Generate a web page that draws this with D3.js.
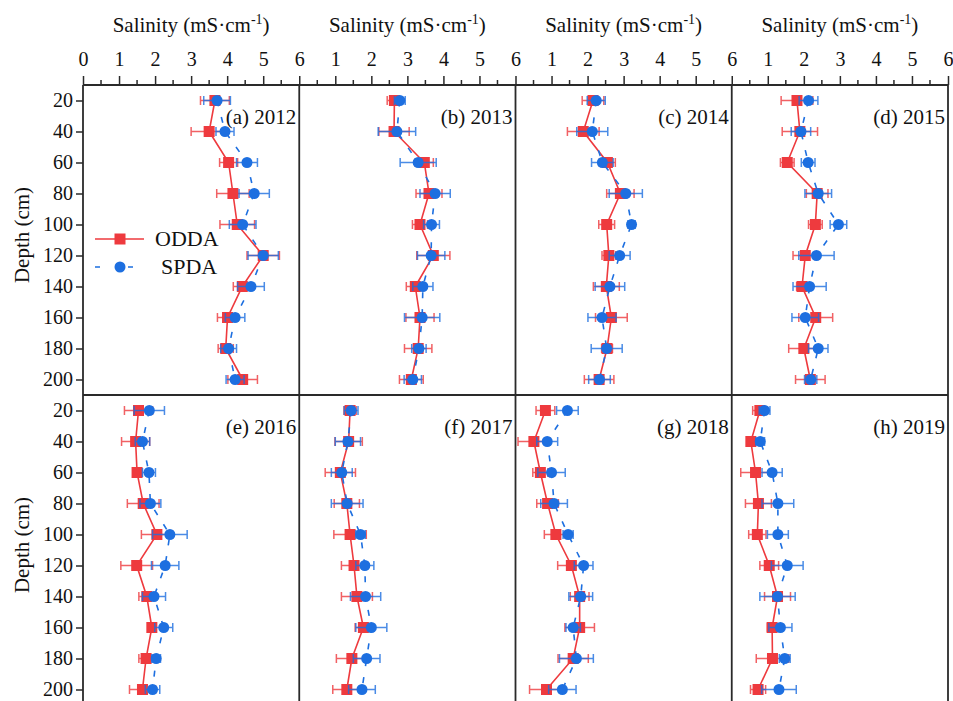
<!DOCTYPE html>
<html>
<head>
<meta charset="utf-8">
<script src="https://cdn.jsdelivr.net/npm/d3@7"></script>
<style>
  body { margin: 0; background: #fff; }
</style>
</head>
<body>
<div id="chart"></div>
<script>
// depth levels (cm) and panels
var depths = [20, 40, 60, 80, 100, 120, 140, 160, 180, 200];
var years = [2012, 2013, 2014, 2015, 2016, 2017, 2018, 2019];
var letters = ["a", "b", "c", "d", "e", "f", "g", "h"];
var seriesNames = ["ODDA", "SPDA"];

// ODDA mean / error, one row per year
var oddaMean = [
  [3.66, 3.50, 4.04, 4.16, 4.28, 5.00, 4.42, 4.01, 3.96, 4.43],
  [2.64, 2.63, 3.47, 3.60, 3.35, 3.72, 3.22, 3.35, 3.30, 3.11],
  [2.15, 1.88, 2.55, 2.91, 2.53, 2.59, 2.52, 2.66, 2.54, 2.32],
  [1.81, 1.89, 1.54, 2.37, 2.32, 2.04, 1.95, 2.33, 2.00, 2.18],
  [1.54, 1.46, 1.50, 1.67, 2.05, 1.49, 1.77, 1.91, 1.75, 1.65],
  [1.41, 1.37, 1.14, 1.32, 1.41, 1.52, 1.60, 1.78, 1.46, 1.32],
  [0.83, 0.51, 0.69, 0.89, 1.12, 1.55, 1.78, 1.78, 1.60, 0.86],
  [0.78, 0.53, 0.66, 0.74, 0.71, 1.04, 1.27, 1.12, 1.13, 0.73]
];
var oddaErr = [
  [0.40, 0.50, 0.25, 0.45, 0.48, 0.45, 0.25, 0.28, 0.21, 0.41],
  [0.20, 0.42, 0.25, 0.36, 0.21, 0.46, 0.25, 0.39, 0.38, 0.33],
  [0.30, 0.44, 0.22, 0.38, 0.22, 0.19, 0.36, 0.44, 0.15, 0.41],
  [0.44, 0.49, 0.19, 0.30, 0.19, 0.34, 0.15, 0.47, 0.42, 0.41],
  [0.39, 0.39, 0.10, 0.44, 0.43, 0.44, 0.22, 0.10, 0.20, 0.36],
  [0.17, 0.38, 0.42, 0.35, 0.45, 0.35, 0.43, 0.23, 0.43, 0.39],
  [0.26, 0.44, 0.21, 0.30, 0.32, 0.38, 0.26, 0.41, 0.42, 0.47],
  [0.20, 0.10, 0.41, 0.36, 0.24, 0.26, 0.36, 0.13, 0.45, 0.21]
];
// SPDA mean / error
var spdaMean = [
  [3.72, 3.94, 4.55, 4.75, 4.43, 5.00, 4.66, 4.22, 4.04, 4.22],
  [2.79, 2.71, 3.30, 3.77, 3.67, 3.66, 3.43, 3.41, 3.32, 3.15],
  [2.24, 2.13, 2.41, 3.06, 3.22, 2.89, 2.62, 2.40, 2.53, 2.33],
  [2.13, 1.92, 2.12, 2.40, 2.96, 2.35, 2.16, 2.04, 2.40, 2.19],
  [1.84, 1.65, 1.83, 1.87, 2.41, 2.28, 1.97, 2.24, 2.03, 1.93],
  [1.44, 1.35, 1.18, 1.33, 1.70, 1.82, 1.84, 2.00, 1.87, 1.74],
  [1.44, 0.88, 1.00, 1.07, 1.46, 1.89, 1.81, 1.60, 1.69, 1.30],
  [0.91, 0.79, 1.12, 1.28, 1.28, 1.54, 1.27, 1.35, 1.47, 1.31]
];
var spdaErr = [
  [0.37, 0.25, 0.29, 0.42, 0.37, 0.42, 0.37, 0.27, 0.22, 0.25],
  [0.15, 0.52, 0.50, 0.42, 0.22, 0.38, 0.28, 0.49, 0.20, 0.24],
  [0.25, 0.43, 0.30, 0.46, 0.10, 0.29, 0.41, 0.39, 0.43, 0.30],
  [0.26, 0.27, 0.19, 0.37, 0.23, 0.49, 0.46, 0.37, 0.27, 0.17],
  [0.42, 0.20, 0.18, 0.29, 0.48, 0.38, 0.32, 0.25, 0.12, 0.20],
  [0.19, 0.35, 0.29, 0.44, 0.13, 0.25, 0.42, 0.43, 0.37, 0.37],
  [0.30, 0.29, 0.38, 0.37, 0.14, 0.26, 0.33, 0.20, 0.47, 0.38],
  [0.15, 0.12, 0.28, 0.44, 0.29, 0.44, 0.49, 0.32, 0.15, 0.48]
];

var width = 953, height = 701;
var plotLeft = 83, plotRight = 948, plotTop = 85;
var panelW = (plotRight - plotLeft) / 4, panelH = 310;
var red = "#ee3a3e", blue = "#1d6fe0";
var axisColor = "#2a2a2a";
var serif = "'Liberation Serif', 'Times New Roman', 'DejaVu Serif', serif";

var svg = d3.select("#chart").append("svg")
  .attr("width", width)
  .attr("height", height)
  .attr("font-family", serif);

var yScales = [0, 1].map(function(r) {
  return d3.scaleLinear().domain([10, 210]).range([plotTop + r * panelH, plotTop + (r + 1) * panelH]);
});
var xScales = [0, 1, 2, 3].map(function(c) {
  return d3.scaleLinear().domain([0, 6]).range([plotLeft + c * panelW, plotLeft + (c + 1) * panelW]);
});

// top axes and titles (top row only)
xScales.forEach(function(x, c) {
  var g = svg.append("g").attr("transform", "translate(0," + plotTop + ")");
  var minor = d3.range(0.5, 6, 1);
  g.selectAll("line.minor").data(minor).enter().append("line")
    .attr("x1", function(d) { return x(d); }).attr("x2", function(d) { return x(d); })
    .attr("y1", 0).attr("y2", -5)
    .attr("stroke", axisColor).attr("stroke-width", 1.5);
  var majors = c === 0 ? d3.range(0, 7) : d3.range(1, 7);
  var axis = d3.axisTop(x).tickValues(majors).tickSize(9).tickPadding(10)
    .tickFormat(d3.format("d"));
  g.call(axis);
  g.attr("font-family", serif).attr("font-size", 20);
  g.select(".domain").remove();
  g.selectAll(".tick line").attr("stroke", axisColor).attr("stroke-width", 1.5);
  g.selectAll(".tick text").attr("fill", "#111");

  var t = svg.append("text")
    .attr("x", (x.range()[0] + x.range()[1]) / 2)
    .attr("y", 32)
    .attr("text-anchor", "middle")
    .attr("font-size", 21)
    .attr("fill", "#111");
  t.append("tspan").text("Salinity (mS\u00b7cm");
  t.append("tspan").attr("dy", -8).attr("font-size", 14).text("-1");
  t.append("tspan").attr("dy", 8).text(")");
});

// left axes and labels
yScales.forEach(function(y, r) {
  var g = svg.append("g").attr("transform", "translate(" + plotLeft + ",0)");
  var axis = d3.axisLeft(y).tickValues(depths).tickSize(7).tickPadding(3);
  g.call(axis);
  g.attr("font-family", serif).attr("font-size", 20);
  g.select(".domain").remove();
  g.selectAll(".tick line").attr("stroke", axisColor).attr("stroke-width", 1.5);
  g.selectAll(".tick text").attr("fill", "#111");

  svg.append("text")
    .attr("transform", "translate(29," + (y.range()[0] + 150) + ") rotate(-90)")
    .attr("text-anchor", "middle")
    .attr("font-size", 21)
    .attr("fill", "#111")
    .text("Depth (cm)");
});

// panel frame lines
var frame = svg.append("g").attr("stroke", axisColor).attr("stroke-width", 1.8);
frame.append("line").attr("x1", plotLeft).attr("x2", plotRight).attr("y1", plotTop).attr("y2", plotTop);
frame.append("line").attr("x1", plotLeft).attr("x2", plotRight)
  .attr("y1", plotTop + panelH).attr("y2", plotTop + panelH);
d3.range(5).forEach(function(c) {
  frame.append("line")
    .attr("x1", plotLeft + c * panelW).attr("x2", plotLeft + c * panelW)
    .attr("y1", plotTop).attr("y2", plotTop + 2 * panelH);
});

// panels
years.forEach(function(yr, i) {
  var x = xScales[i % 4];
  var y = yScales[Math.floor(i / 4)];
  var g = svg.append("g");

  svg.append("text")
    .attr("x", x.range()[1] - 3)
    .attr("y", y(10) + 39)
    .attr("text-anchor", "end")
    .attr("font-size", 21)
    .attr("fill", "#111")
    .text("(" + letters[i] + ") " + yr);

  var sets = [
    { mean: oddaMean[i], err: oddaErr[i], color: red, dash: null, shape: "square" },
    { mean: spdaMean[i], err: spdaErr[i], color: blue, dash: "6,11", shape: "circle" }
  ];

  sets.forEach(function(s) {
    var pts = depths.map(function(d, k) { return { d: d, v: s.mean[k], e: s.err[k] }; });
    var line = d3.line().x(function(p) { return x(p.v); }).y(function(p) { return y(p.d); });

    g.append("path").datum(pts)
      .attr("d", line)
      .attr("fill", "none")
      .attr("stroke", s.color)
      .attr("stroke-width", 1.6)
      .attr("stroke-dasharray", s.dash);

    var eb = g.append("g").attr("stroke", s.color).attr("stroke-width", 1.5).attr("opacity", 0.8);
    eb.selectAll("line.bar").data(pts).enter().append("line")
      .attr("x1", function(p) { return x(p.v - p.e); })
      .attr("x2", function(p) { return x(p.v + p.e); })
      .attr("y1", function(p) { return y(p.d); })
      .attr("y2", function(p) { return y(p.d); });
    [-1, 1].forEach(function(sgn) {
      eb.selectAll("line.cap" + sgn).data(pts).enter().append("line")
        .attr("x1", function(p) { return x(p.v + sgn * p.e); })
        .attr("x2", function(p) { return x(p.v + sgn * p.e); })
        .attr("y1", function(p) { return y(p.d) - 4.5; })
        .attr("y2", function(p) { return y(p.d) + 4.5; });
    });

    if (s.shape === "square") {
      g.selectAll(null).data(pts).enter().append("rect")
        .attr("x", function(p) { return x(p.v) - 5.5; })
        .attr("y", function(p) { return y(p.d) - 5.5; })
        .attr("width", 11).attr("height", 11)
        .attr("fill", s.color);
    } else {
      g.selectAll(null).data(pts).enter().append("circle")
        .attr("cx", function(p) { return x(p.v); })
        .attr("cy", function(p) { return y(p.d); })
        .attr("r", 5.5)
        .attr("fill", s.color);
    }
  });
});

// legend in panel (a)
var lg = svg.append("g");
lg.append("line").attr("x1", 95).attr("x2", 144).attr("y1", 239).attr("y2", 239)
  .attr("stroke", red).attr("stroke-width", 1.6);
lg.append("rect").attr("x", 114.5).attr("y", 233.5).attr("width", 11).attr("height", 11)
  .attr("fill", red);
lg.append("text").attr("x", 155).attr("y", 246).attr("font-size", 22).attr("fill", "#111")
  .text(seriesNames[0]);
lg.append("line").attr("x1", 95).attr("x2", 134).attr("y1", 267).attr("y2", 267)
  .attr("stroke", blue).attr("stroke-width", 1.6).attr("stroke-dasharray", "5,28");
lg.append("circle").attr("cx", 120).attr("cy", 267).attr("r", 5.5).attr("fill", blue);
lg.append("text").attr("x", 161).attr("y", 274).attr("font-size", 22).attr("fill", "#111")
  .text(seriesNames[1]);
</script>
</body>
</html>
